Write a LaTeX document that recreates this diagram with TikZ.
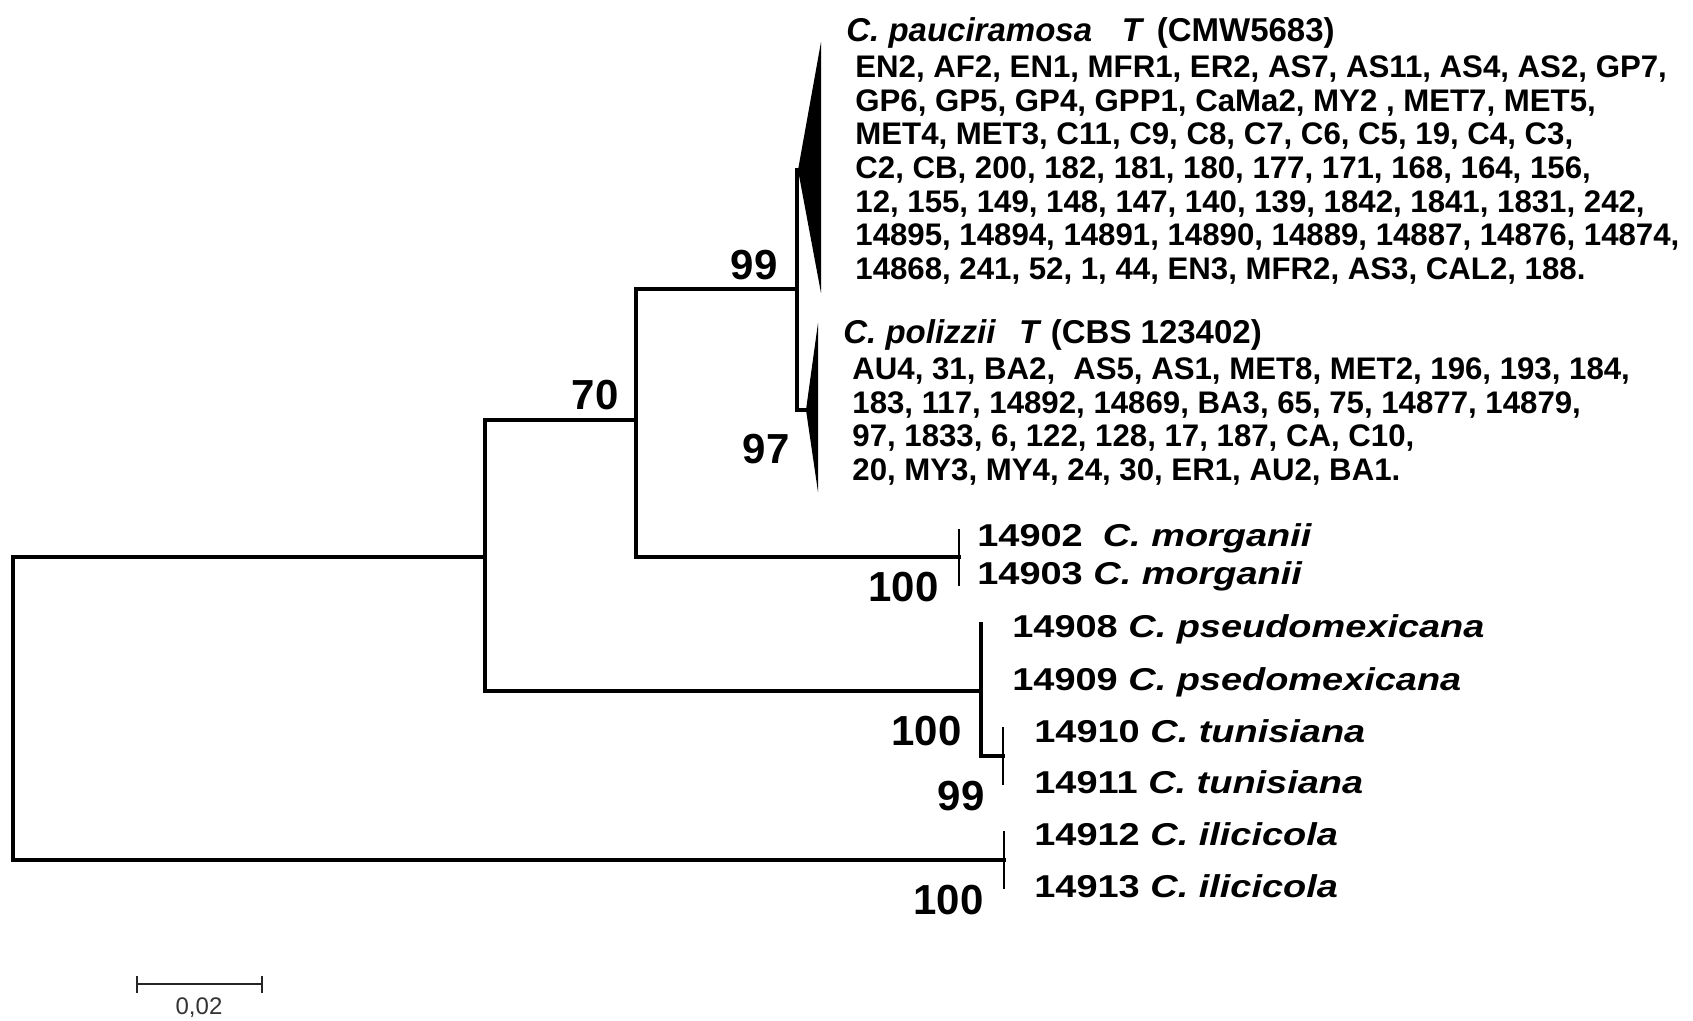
\documentclass[tikz,border=0pt]{standalone}
\usepackage{fontspec}
\setmainfont{Liberation Sans}
\newfontfamily\leaffont[FakeStretch=1.2]{Liberation Sans}
\begin{document}
\begin{tikzpicture}[x=0.5pt,y=-0.5pt,
  br/.style={line width=1.75pt, line cap=rect},
  tipline/.style={line width=1.3pt},
  boot/.style={font=\fontsize{21}{22}\selectfont\bfseries, inner sep=0, anchor=base east},
  lst/.style={font=\fontsize{15.6}{18}\selectfont\bfseries, inner sep=0, anchor=base west},
  ttl/.style={font=\fontsize{16.5}{19}\selectfont\bfseries, inner sep=0, anchor=base west},
  leaf/.style={font=\leaffont\fontsize{15.8}{18}\selectfont\bfseries, inner sep=0, anchor=base west},
]
\fill[white] (0,0) rectangle (1693,1021);
\useasboundingbox (0,0) rectangle (1693,1021);

% tree coordinates
\coordinate (r1) at (13,557);   \coordinate (r2) at (13,860);
\coordinate (a0) at (485,557);  \coordinate (a1) at (485,420);  \coordinate (a2) at (485,691);
\coordinate (b0) at (636,420);  \coordinate (b1) at (636,289);  \coordinate (b2) at (636,557);
\coordinate (c0) at (797,289);  \coordinate (c1) at (797,170);  \coordinate (c2) at (797,410);
\coordinate (m0) at (959,557);  \coordinate (m1) at (959,529);  \coordinate (m2) at (959,586);
\coordinate (p0) at (981,691);  \coordinate (p1) at (981,624);  \coordinate (p2) at (981,756);
\coordinate (t0) at (1003,756); \coordinate (t1) at (1003,727); \coordinate (t2) at (1003,785);
\coordinate (i0) at (1004,860); \coordinate (i1) at (1004,831); \coordinate (i2) at (1004,889);
% collapsed clades
\coordinate (ta) at (798,170); \coordinate (tt) at (821,42);  \coordinate (tb) at (821,293);
\coordinate (pa) at (806,410); \coordinate (pt) at (818,323); \coordinate (pb) at (818,492);

\draw[br] (r1) -- (r2);
\draw[br] (r1) -- (a0);
\draw[br] (r2) -- (i0);
\draw[br] (a1) -- (a2);
\draw[br] (a1) -- (b0);
\draw[br] (a2) -- (p0);
\draw[br] (b1) -- (b2);
\draw[br] (b1) -- (c0);
\draw[br] (b2) -- (m0);
\draw[br] (c1) -- (c2);
\draw[br] (c1) -- (ta);
\draw[br] (c2) -- (pa);
\draw[tipline] (m1) -- (m2);
\draw[br] (p1) -- (p2);
\draw[br] (p2) -- (t0);
\draw[tipline] (t1) -- (t2);
\draw[tipline] (i1) -- (i2);
\fill (tt) -- (ta) -- (tb) -- cycle;
\fill (pt) -- (pa) -- (pb) -- cycle;

% bootstrap values
\node[boot] (bs1) at (778,280) {99};
\node[boot] (bs2) at (619,410) {70};
\node[boot] (bs3) at (790,464) {97};
\node[boot] (bs4) at (939,602) {100};
\node[boot] (bs5) at (962,745) {100};
\node[boot] (bs6) at (985,810) {99};
\node[boot] (bs7) at (984,914) {100};

% pauciramosa block
\node[ttl] (pauT) at (846,41.5) {\textit{C. pauciramosa}\hspace{0.9em}\textit{T}\hspace{0.1em} (CMW5683)};
\node[lst] (pau1) at (855,77.5) {EN2, AF2, EN1, MFR1, ER2, AS7, AS11, AS4, AS2, GP7,};
\node[lst] (pau2) at (855,111.2) {GP6, GP5, GP4, GPP1, CaMa2, MY2 , MET7, MET5,};
\node[lst] (pau3) at (855,144.9) {MET4, MET3, C11, C9, C8, C7, C6, C5, 19, C4, C3,};
\node[lst] (pau4) at (855,178.6) {C2, CB, 200, 182, 181, 180, 177, 171, 168, 164, 156,};
\node[lst] (pau5) at (855,212.3) {12, 155, 149, 148, 147, 140, 139, 1842, 1841, 1831, 242,};
\node[lst] (pau6) at (855,246) {14895, 14894, 14891, 14890, 14889, 14887, 14876, 14874,};
\node[lst] (pau7) at (855,279.7) {14868, 241, 52, 1, 44, EN3, MFR2, AS3, CAL2, 188.};

% polizzii block
\node[ttl] (polT) at (843,344) {\textit{C. polizzii}\hspace{0.7em}\textit{T} (CBS 123402)};
\node[lst] (pol1) at (852,380) {AU4, 31, BA2,\hspace{0.3em} AS5, AS1, MET8, MET2, 196, 193, 184,};
\node[lst] (pol2) at (852,414) {183, 117, 14892, 14869, BA3, 65, 75, 14877, 14879,};
\node[lst] (pol3) at (852,447) {97, 1833, 6, 122, 128, 17, 187, CA, C10,};
\node[lst] (pol4) at (852,481) {20, MY3, MY4, 24, 30, ER1, AU2, BA1.};

% leaves
\node[leaf] (l1) at (977,547) {14902\hspace{0.3em} \textit{C. morganii}};
\node[leaf] (l2) at (977,585) {14903 \textit{C. morganii}};
\node[leaf] (l3) at (1012,638) {14908 \textit{C. pseudomexicana}};
\node[leaf] (l4) at (1012,690) {14909 \textit{C. psedomexicana}};
\node[leaf] (l5) at (1034,742) {14910 \textit{C. tunisiana}};
\node[leaf] (l6) at (1034,793) {14911 \textit{C. tunisiana}};
\node[leaf] (l7) at (1034,845) {14912 \textit{C. ilicicola}};
\node[leaf] (l8) at (1034,897) {14913 \textit{C. ilicicola}};

% scale bar
\coordinate (s1) at (137,984); \coordinate (s2) at (262,984);
\coordinate (s1a) at (137,976); \coordinate (s1b) at (137,993);
\coordinate (s2a) at (262,976); \coordinate (s2b) at (262,993);
\draw[line width=1pt, black!85] (s1) -- (s2);
\draw[line width=1pt, black!85] (s1a) -- (s1b);
\draw[line width=1pt, black!85] (s2a) -- (s2b);
\node[font=\fontsize{12}{13}\selectfont, text=black!80, inner sep=0, anchor=base] (slab) at (199,1014) {0,02};
\end{tikzpicture}
\end{document}
